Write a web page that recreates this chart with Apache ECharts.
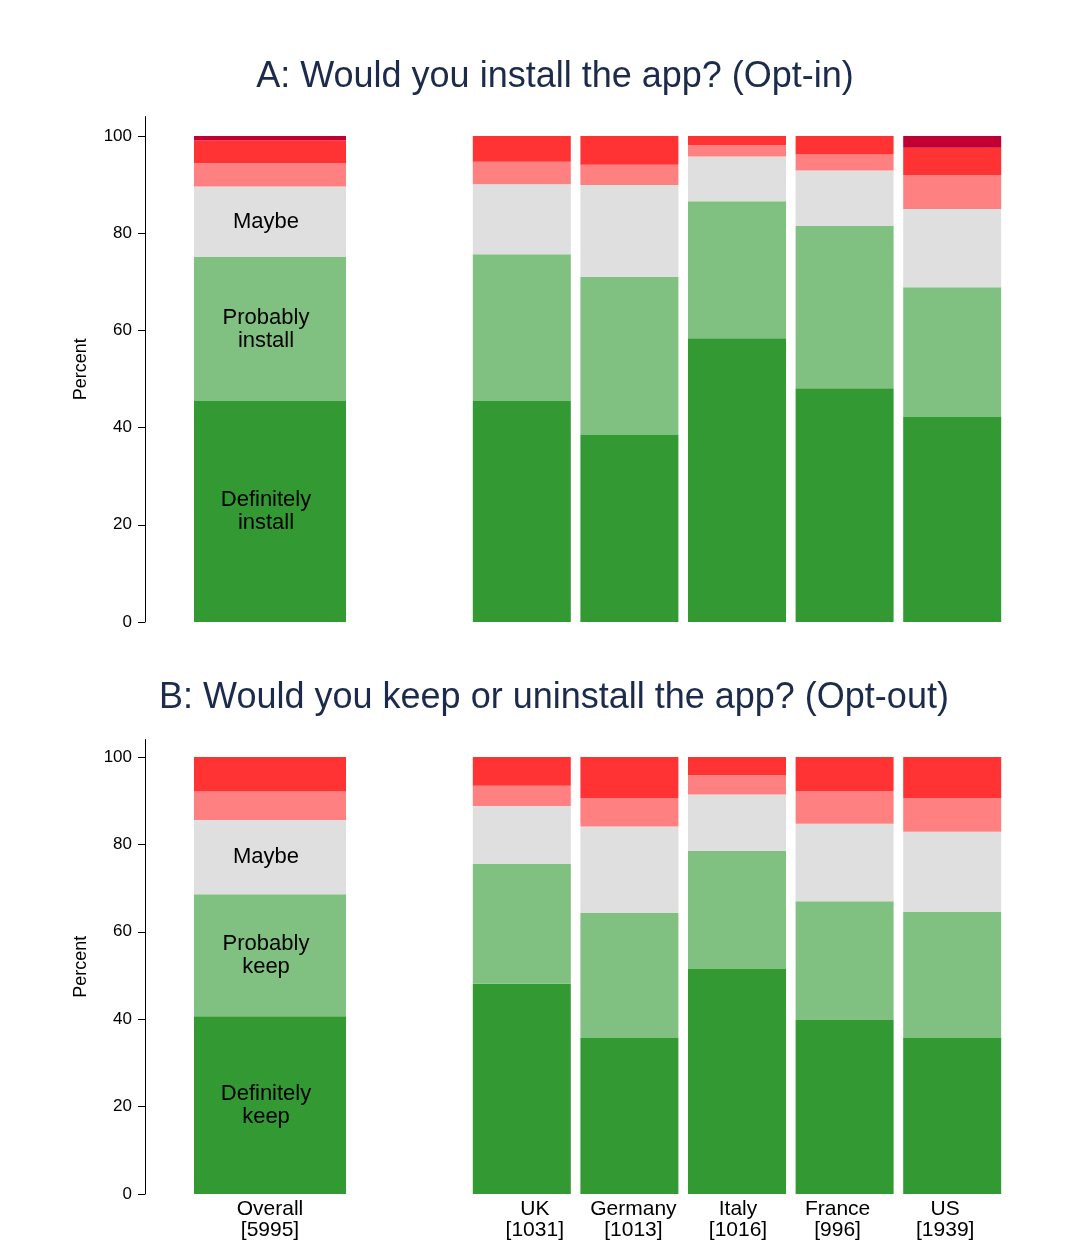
<!DOCTYPE html>
<html>
<head>
<meta charset="utf-8">
<script src="https://cdn.jsdelivr.net/npm/echarts@6/dist/echarts.min.js"></script>
<style>html,body{margin:0;padding:0;background:#fff}#c{width:1090px;height:1260px}</style>
</head>
<body>
<div id="c"></div>
<script>
// Groups: first value = Overall, then the countries
const countries = ['UK', 'Germany', 'Italy', 'France', 'US'];
const overallName = 'Overall';
const overallN = 5995;
const countryN = [1031, 1013, 1016, 996, 1939];
const yTicks = [0, 20, 40, 60, 80, 100];

// Panel A: install (Opt-in)  [Overall, UK, Germany, Italy, France, US]
const aDefinitely = [45.5, 45.5, 38.5, 58.4, 48.1, 42.2];
const aProbably   = [29.6, 30.2, 32.5, 28.2, 33.4, 26.7];
const aMaybe      = [14.5, 14.4, 18.9, 9.2, 11.4, 16.1];
const aProbNot    = [4.8, 4.6, 4.2, 2.3, 3.3, 7.0];
const aDefNot     = [4.7, 5.3, 5.9, 1.9, 3.8, 5.6];
const aOther      = [0.9, 0, 0, 0, 0, 2.4];

// Panel B: keep (Opt-out)  [Overall, UK, Germany, Italy, France, US]
const bDefinitely = [40.7, 48.1, 35.7, 51.5, 39.8, 35.7];
const bProbably   = [27.9, 27.4, 28.6, 27.0, 27.2, 28.8];
const bMaybe      = [17.0, 13.3, 19.8, 12.9, 17.7, 18.4];
const bProbNot    = [6.5, 4.6, 6.5, 4.4, 7.5, 7.7];
const bDefNot     = [7.9, 6.6, 9.4, 4.2, 7.8, 9.4];

const labelsA = ['Definitely\ninstall', 'Probably\ninstall', 'Maybe'];
const labelsB = ['Definitely\nkeep', 'Probably\nkeep', 'Maybe'];

const colors = ['#339933', '#80c080', '#dfdfdf', '#ff8080', '#ff3333', '#c00033'];
const FONT = 'Liberation Sans, Arial, sans-serif';

const panelA = [aDefinitely, aProbably, aMaybe, aProbNot, aDefNot, aOther];
const panelB = [bDefinitely, bProbably, bMaybe, bProbNot, bDefNot];

// small horizontal nudges of the country labels, as in the original
const labelShift = [13, 4, 1, -7, -7];

const YMAX = 104;
const grids = [
  {left: 145, top: 116.6, width: 250, height: 505.4},
  {left: 468, top: 116.6, width: 538, height: 505.4},
  {left: 145, top: 739.5, width: 250, height: 454.5},
  {left: 468, top: 739.5, width: 538, height: 454.5}
];

function buildRich() {
  const rich = {};
  labelShift.forEach((s, i) => {
    rich['s' + i] = {
      color: '#000', fontFamily: FONT, fontSize: 21, lineHeight: 21,
      padding: s >= 0 ? [0, 0, 0, 2 * s] : [0, -2 * s, 0, 0]
    };
  });
  return rich;
}

function xAx(gi, cats, showLabels, shifted) {
  const lab = {show: showLabels, color: '#000', fontFamily: FONT, fontSize: 21, lineHeight: 21, margin: 5, interval: 0};
  if (shifted) {
    lab.rich = buildRich();
    lab.formatter = (v, i) => v.split('\n').map(l => '{s' + i + '|' + l + '}').join('\n');
  }
  return {
    type: 'category', gridIndex: gi, data: cats,
    axisLine: {show: false}, axisTick: {show: false},
    axisLabel: lab
  };
}
function yAx(gi, show) {
  return {
    type: 'value', gridIndex: gi, min: 0, max: YMAX, show: show,
    name: 'Percent', nameLocation: 'middle', nameGap: 55, nameRotate: 90,
    nameTextStyle: {color: '#000', fontFamily: FONT, fontSize: 18},
    splitLine: {show: false},
    axisLine: {show: true, lineStyle: {color: '#000', width: 1}},
    axisTick: {show: true, length: 7, lineStyle: {color: '#000'}, customValues: yTicks},
    axisLabel: {color: '#000', fontFamily: FONT, fontSize: 17, margin: 13, customValues: yTicks}
  };
}

const overallCat = [overallName + '\n[' + overallN + ']'];
const countryCats = countries.map((c, i) => c + '\n[' + countryN[i] + ']');

const series = [];
function addPanel(panel, gOverall, gCountry, labels, stackId) {
  panel.forEach((arr, k) => {
    series.push({
      type: 'bar', xAxisIndex: gOverall, yAxisIndex: gOverall, stack: stackId + 'o',
      barWidth: 152, itemStyle: {color: colors[k]},
      label: {show: k < labels.length, position: 'inside', formatter: labels[k] || '',
              offset: [-4, 0],
              color: '#000', fontFamily: FONT, fontSize: 22, lineHeight: 23},
      data: [arr[0]]
    });
    series.push({
      type: 'bar', xAxisIndex: gCountry, yAxisIndex: gCountry, stack: stackId + 'c',
      barWidth: 98, itemStyle: {color: colors[k]},
      data: arr.slice(1)
    });
  });
}
addPanel(panelA, 0, 1, labelsA, 'A');
addPanel(panelB, 2, 3, labelsB, 'B');

const chart = echarts.init(document.getElementById('c'), null, {renderer: 'canvas'});
chart.setOption({
  animation: false,
  backgroundColor: '#fff',
  title: [
    {text: 'A: Would you install the app? (Opt-in)', left: 555, top: 54, textAlign: 'center',
     textStyle: {color: '#1c2b4b', fontFamily: FONT, fontSize: 36, fontWeight: 'normal'}},
    {text: 'B: Would you keep or uninstall the app? (Opt-out)', left: 554, top: 675, textAlign: 'center',
     textStyle: {color: '#1c2b4b', fontFamily: FONT, fontSize: 36, fontWeight: 'normal'}}
  ].map(t => Object.assign(t, {left: t.left - 5})),
  grid: grids,
  xAxis: [xAx(0, overallCat, false, false), xAx(1, countryCats, false, true), xAx(2, overallCat, true, false), xAx(3, countryCats, true, true)],
  yAxis: [yAx(0, true), yAx(1, false), yAx(2, true), yAx(3, false)],
  series: series
});
</script>
</body>
</html>
